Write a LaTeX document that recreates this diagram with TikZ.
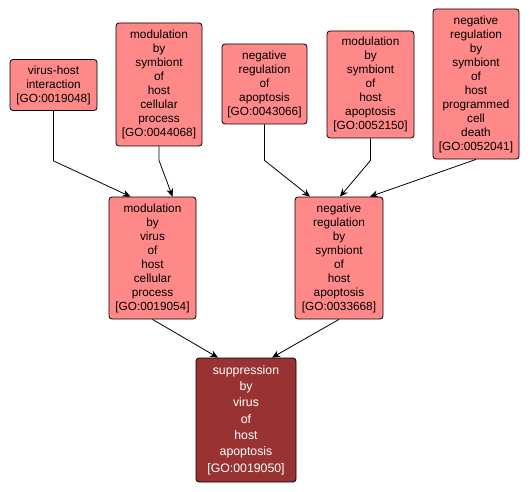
\documentclass[tikz,border=0pt]{standalone}
\usepackage{fontspec}
\setmainfont{Liberation Sans}
\usetikzlibrary{arrows.meta, positioning}
\definecolor{golight}{RGB}{255,136,136}
\definecolor{godark}{RGB}{153,51,51}
\tikzset{
  goterm/.style={rectangle, draw=black, fill=golight, align=center,
    rounded corners=3pt, line width=0.8pt, inner sep=0pt,
    font=\fontsize{11.8}{14}\selectfont},
  gofocus/.style={rectangle, draw=black, fill=godark, text=white, align=center,
    rounded corners=3pt, line width=0.8pt, inner sep=0pt,
    font=\fontsize{12.3}{16.3}\selectfont},
  isa/.style={-{Stealth[length=8pt, width=7pt]}, line width=0.8pt, color=black}
}
\begin{document}
\begin{tikzpicture}[x=1pt, y=-1pt]
  \useasboundingbox (0,0) rectangle (530,492);

  % Top row
  \node[goterm, minimum width=87pt, minimum height=51pt] (vhi) at (53.5,85)
    {virus-host\\interaction\\{[GO:0019048]}};
  \node[goterm, minimum width=86pt, minimum height=123pt] (mshcp) at (159,84.5)
    {modulation\\by\\symbiont\\of\\host\\cellular\\process\\{[GO:0044068]}};
  \node[goterm, minimum width=85pt, minimum height=80pt] (nra) at (264.5,84)
    {negative\\regulation\\of\\apoptosis\\{[GO:0043066]}};
  \node[goterm, minimum width=87pt, minimum height=107pt] (msha) at (370.5,84.5)
    {modulation\\by\\symbiont\\of\\host\\apoptosis\\{[GO:0052150]}};
  \node[goterm, minimum width=86pt, minimum height=150pt] (nrspcd) at (476,84)
    {negative\\regulation\\by\\symbiont\\of\\host\\programmed\\cell\\death\\{[GO:0052041]}};

  % Middle row
  \node[goterm, minimum width=87pt, minimum height=122pt] (mvhcp) at (152.5,258)
    {modulation\\by\\virus\\of\\host\\cellular\\process\\{[GO:0019054]}};
  \node[goterm, minimum width=88pt, minimum height=122pt] (nrsha) at (339,258)
    {negative\\regulation\\by\\symbiont\\of\\host\\apoptosis\\{[GO:0033668]}};

  % Bottom
  \node[gofocus, minimum width=100pt, minimum height=124pt] (svha) at (246,420)
    {suppression\\by\\virus\\of\\host\\apoptosis\\{[GO:0019050]}};

  % Edges into the middle row
  \draw[isa] (vhi.south) -- ++(0,50) -- ([xshift=-22pt]mvhcp.north);
  \draw[isa] (mshcp.south) -- ++(0,14) -- ([xshift=20pt]mvhcp.north);
  \draw[isa] (nra.south) -- ++(0,36) -- ([xshift=-29pt]nrsha.north);
  \draw[isa] (msha.south) -- ++(0,22) -- ([xshift=1pt]nrsha.north);
  \draw[isa] (nrspcd.south) -- ([xshift=31pt]nrsha.north);

  % Edges into the focus term
  \draw[isa] (mvhcp.south) -- ([xshift=-28pt]svha.north);
  \draw[isa] (nrsha.south) -- ([xshift=26pt]svha.north);
\end{tikzpicture}
\end{document}
